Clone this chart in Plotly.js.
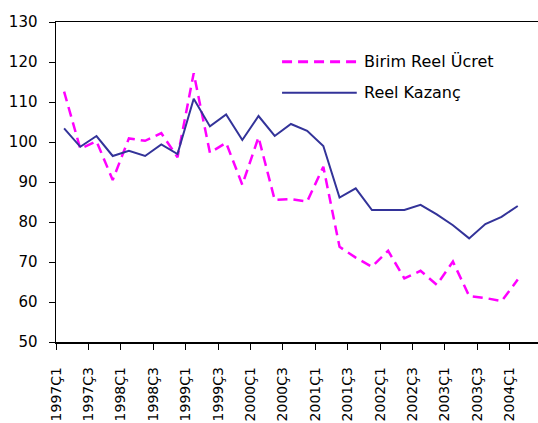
<!DOCTYPE html>
<html>
<head>
<meta charset="utf-8">
<script src="https://cdn.plot.ly/plotly-3.0.1.min.js"></script>
<style>html,body{margin:0;padding:0;background:#fff;}#chart{width:538px;height:423px;}</style>
</head>
<body>
<div id="chart"></div>
<script>
const quarters = ["1997Ç1","1997Ç2","1997Ç3","1997Ç4","1998Ç1","1998Ç2","1998Ç3","1998Ç4",
  "1999Ç1","1999Ç2","1999Ç3","1999Ç4","2000Ç1","2000Ç2","2000Ç3","2000Ç4",
  "2001Ç1","2001Ç2","2001Ç3","2001Ç4","2002Ç1","2002Ç2","2002Ç3","2002Ç4",
  "2003Ç1","2003Ç2","2003Ç3","2003Ç4","2004Ç1"];
const birimReelUcret = [112.6, 98.3, 100.2, 90.5, 100.9, 100.3, 102.2, 96.2, 117.2, 97.3,
  99.8, 89.3, 101.2, 85.5, 85.7, 85.1, 93.8, 73.8, 71.1, 68.8,
  72.8, 65.9, 67.8, 64.3, 70.1, 61.5, 61.0, 60.2, 65.6];
const reelKazanc = [103.4, 98.8, 101.5, 96.5, 97.8, 96.5, 99.4, 97.0, 110.8, 103.9,
  106.9, 100.5, 106.5, 101.5, 104.5, 102.8, 99.0, 86.1, 88.4, 83.0,
  83.0, 83.0, 84.3, 81.9, 79.2, 75.9, 79.5, 81.3, 84.0];
const seriesNames = ["Birim Reel Ücret", "Reel Kazanç"];
const yTicks = [50, 60, 70, 80, 90, 100, 110, 120, 130];

const xIdx = quarters.map((q, i) => i);
const tickIdx = quarters.map((q, i) => i).filter(i => i % 2 === 0);
const tickPos = tickIdx.map(i => i - 0.5);
const tickText = tickIdx.map(i => quarters[i]);

const MAG = "#FF00FF", NAVY = "#333399";
const traces = [
  {x: xIdx, y: birimReelUcret, name: seriesNames[0], type: "scatter", mode: "lines",
   line: {color: MAG, width: 2.5, dash: "10px,6px"}, showlegend: false},
  {x: xIdx, y: reelKazanc, name: seriesNames[1], type: "scatter", mode: "lines",
   line: {color: NAVY, width: 2}, showlegend: false}
];

const font = {family: "DejaVu Sans, Verdana, sans-serif", color: "#000"};
const layout = {
  width: 538, height: 423,
  margin: {l: 56, r: 0, t: 22, b: 81, pad: 0},
  paper_bgcolor: "#fff", plot_bgcolor: "#fff",
  font: font,
  xaxis: {
    type: "linear", range: [-0.5, 29.25], showgrid: false, zeroline: false,
    showline: true, linecolor: "#000", linewidth: 1.5, mirror: true,
    ticks: "outside", ticklen: 6, tickcolor: "#000", tickwidth: 1,
    tickmode: "array", tickvals: tickPos, ticktext: tickText,
    tickangle: -90, tickfont: {family: font.family, size: 14, color: "#000"},
    ticklabelstandoff: 12
  },
  yaxis: {
    range: [50, 130], showgrid: false, zeroline: false,
    showline: true, linecolor: "#000", linewidth: 1.5,
    ticks: "outside", ticklen: 6, tickcolor: "#000", tickwidth: 1,
    tickmode: "array", tickvals: yTicks, ticktext: yTicks.map(String),
    tickfont: {family: font.family, size: 15, color: "#000"},
    ticklabelstandoff: 8
  },
  shapes: [
    {type: "line", xref: "paper", yref: "paper", x0: 0.469, x1: 0.624, y0: 0.876, y1: 0.876,
     line: {color: MAG, width: 3, dash: "10px,6px"}},
    {type: "line", xref: "paper", yref: "paper", x0: 0.469, x1: 0.624, y0: 0.779, y1: 0.779,
     line: {color: NAVY, width: 2}}
  ],
  annotations: [
    {xref: "paper", yref: "paper", x: 0.635, y: 0.876, xanchor: "left", yanchor: "middle",
     text: seriesNames[0], showarrow: false, font: {family: font.family, size: 16, color: "#000"}},
    {xref: "paper", yref: "paper", x: 0.635, y: 0.779, xanchor: "left", yanchor: "middle",
     text: seriesNames[1], showarrow: false, font: {family: font.family, size: 16, color: "#000"}}
  ]
};
Plotly.newPlot("chart", traces, layout, {displayModeBar: false, staticPlot: true});
</script>
</body>
</html>
